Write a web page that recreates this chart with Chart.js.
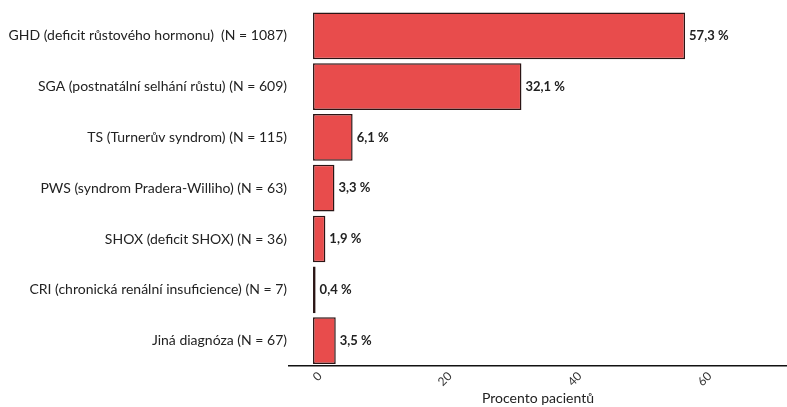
<!DOCTYPE html>
<html lang="cs">
<head>
    <meta charset="UTF-8">
    <title>Diagnózy pacientů</title>
    <script src="https://cdn.jsdelivr.net/npm/chart.js"></script>
    <style>
        html, body { margin: 0; padding: 0; background: #fff; }
        #wrap { width: 787px; height: 407px; }
    </style>
</head>
<body>
    <div id="wrap"><canvas id="diagChart"></canvas></div>

    <script>
        const diagnoses = [
            'GHD (deficit růstového hormonu)  (N = 1087)',
            'SGA (postnatální selhání růstu) (N = 609)',
            'TS (Turnerův syndrom) (N = 115)',
            'PWS (syndrom Pradera-Williho) (N = 63)',
            'SHOX (deficit SHOX) (N = 36)',
            'CRI (chronická renální insuficience) (N = 7)',
            'Jiná diagnóza (N = 67)'
        ];
        const percents = [57.3, 32.1, 6.1, 3.3, 1.9, 0.4, 3.5];
        const xTicks = [0, 20, 40, 60];

        const fontFamily = 'Lato, "Open Sans", sans-serif';

        // percentage text right next to the end of each bar
        const valueLabels = {
            id: 'valueLabels',
            afterDatasetsDraw(chart) {
                const ctx = chart.ctx;
                const meta = chart.getDatasetMeta(0);
                ctx.save();
                ctx.font = 'bold 13px ' + fontFamily;
                ctx.fillStyle = '#222';
                ctx.textBaseline = 'middle';
                ctx.textAlign = 'left';
                meta.data.forEach((bar, i) => {
                    const txt = percents[i].toFixed(1).replace('.', ',') + ' %';
                    ctx.fillText(txt, bar.x + 4, bar.y);
                });
                ctx.restore();
            }
        };

        new Chart(document.getElementById('diagChart'), {
            type: 'bar',
            data: {
                labels: diagnoses,
                datasets: [{
                    data: percents,
                    backgroundColor: '#e84c4c',
                    borderColor: '#2b1515',
                    borderWidth: 1.5,
                    borderSkipped: false,
                    barPercentage: 0.92,
                    categoryPercentage: 1
                }]
            },
            options: {
                indexAxis: 'y',
                responsive: true,
                maintainAspectRatio: false,
                animation: false,
                layout: { padding: { top: 10, right: 0, left: 0, bottom: 0 } },
                plugins: {
                    legend: { display: false },
                    tooltip: { enabled: false }
                },
                scales: {
                    x: {
                        min: -3.7,
                        max: 73,
                        afterBuildTicks(scale) {
                            scale.ticks = xTicks.map(v => ({ value: v }));
                        },
                        afterFit(scale) {
                            scale.height = 41;
                        },
                        grid: { display: false, drawTicks: false },
                        border: { display: true, color: '#111', width: 1.5 },
                        ticks: {
                            color: '#333',
                            font: { family: fontFamily, size: 12 },
                            minRotation: 45,
                            maxRotation: 45,
                            labelOffset: 7,
                            padding: 3
                        },
                        title: {
                            display: true,
                            text: 'Procento pacientů',
                            color: '#222',
                            font: { family: fontFamily, size: 14 },
                            padding: { top: 0, bottom: 0 }
                        }
                    },
                    y: {
                        afterFit(scale) {
                            scale.width = 289;
                        },
                        grid: { display: false, drawTicks: false },
                        border: { display: false },
                        ticks: {
                            color: '#222',
                            font: { family: fontFamily, size: 14 },
                            padding: 2
                        }
                    }
                }
            },
            plugins: [valueLabels]
        });
    </script>
</body>
</html>
